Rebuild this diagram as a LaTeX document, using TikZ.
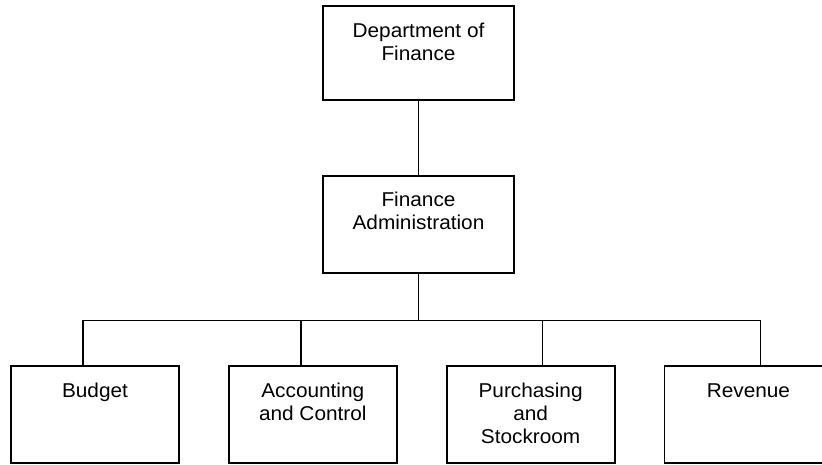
\documentclass[tikz,border=0pt]{standalone}
\usepackage{fontspec}
\setmainfont[FakeStretch=1.04]{Liberation Sans}
\usepackage{tikz}
\usetikzlibrary{positioning,calc}
% box text hangs from its first line
\newcommand{\orgtext}[1]{\begin{tabular}[t]{@{}c@{}}#1\end{tabular}}
\tikzset{
  headbox/.style={
    rectangle, draw=black, line width=1.8pt,
    minimum width=191pt, inner sep=0pt,
    text height=31pt, text depth=63pt,
    font=\fontsize{20}{23}\selectfont
  },
  unitbox/.style={
    rectangle, draw=black, line width=1.8pt,
    minimum width=168pt, inner sep=0pt,
    text height=31pt, text depth=66pt,
    font=\fontsize{20}{23}\selectfont
  },
  link/.style={line width=1.5pt, color=black},
}

\begin{document}
\begin{tikzpicture}[x=1pt, y=-1pt, node distance=48pt]

  \path[use as bounding box, clip] (0,0) rectangle (822,464);

  % Department head and administration
  \node[headbox] (dept) at (418.5,53) {\orgtext{Department of\\Finance}};
  \node[headbox, text depth=66pt, below=74pt of dept] (admin) {\orgtext{Finance\\Administration}};

  % Divisions
  \node[unitbox] (budget) at (95,414.5) {\orgtext{Budget}};
  \node[unitbox, right=of budget] (acct) {\orgtext{Accounting\\and Control}};
  \node[unitbox, right=of acct] (purch) {\orgtext{Purchasing\\and\\Stockroom}};
  \node[unitbox, right=of purch] (rev) {\orgtext{Revenue}};

  % Connectors
  \coordinate (bus) at ($(admin.south)+(0,47)$);
  \draw[link] (dept) -- (admin);
  \draw[link] (admin.south) -- (bus);
  \foreach \unit/\off in {budget/-12, acct/-12, purch/12, rev/12}
    \draw[link] ([xshift=\off pt]\unit.north) |- (bus);

\end{tikzpicture}
\end{document}
